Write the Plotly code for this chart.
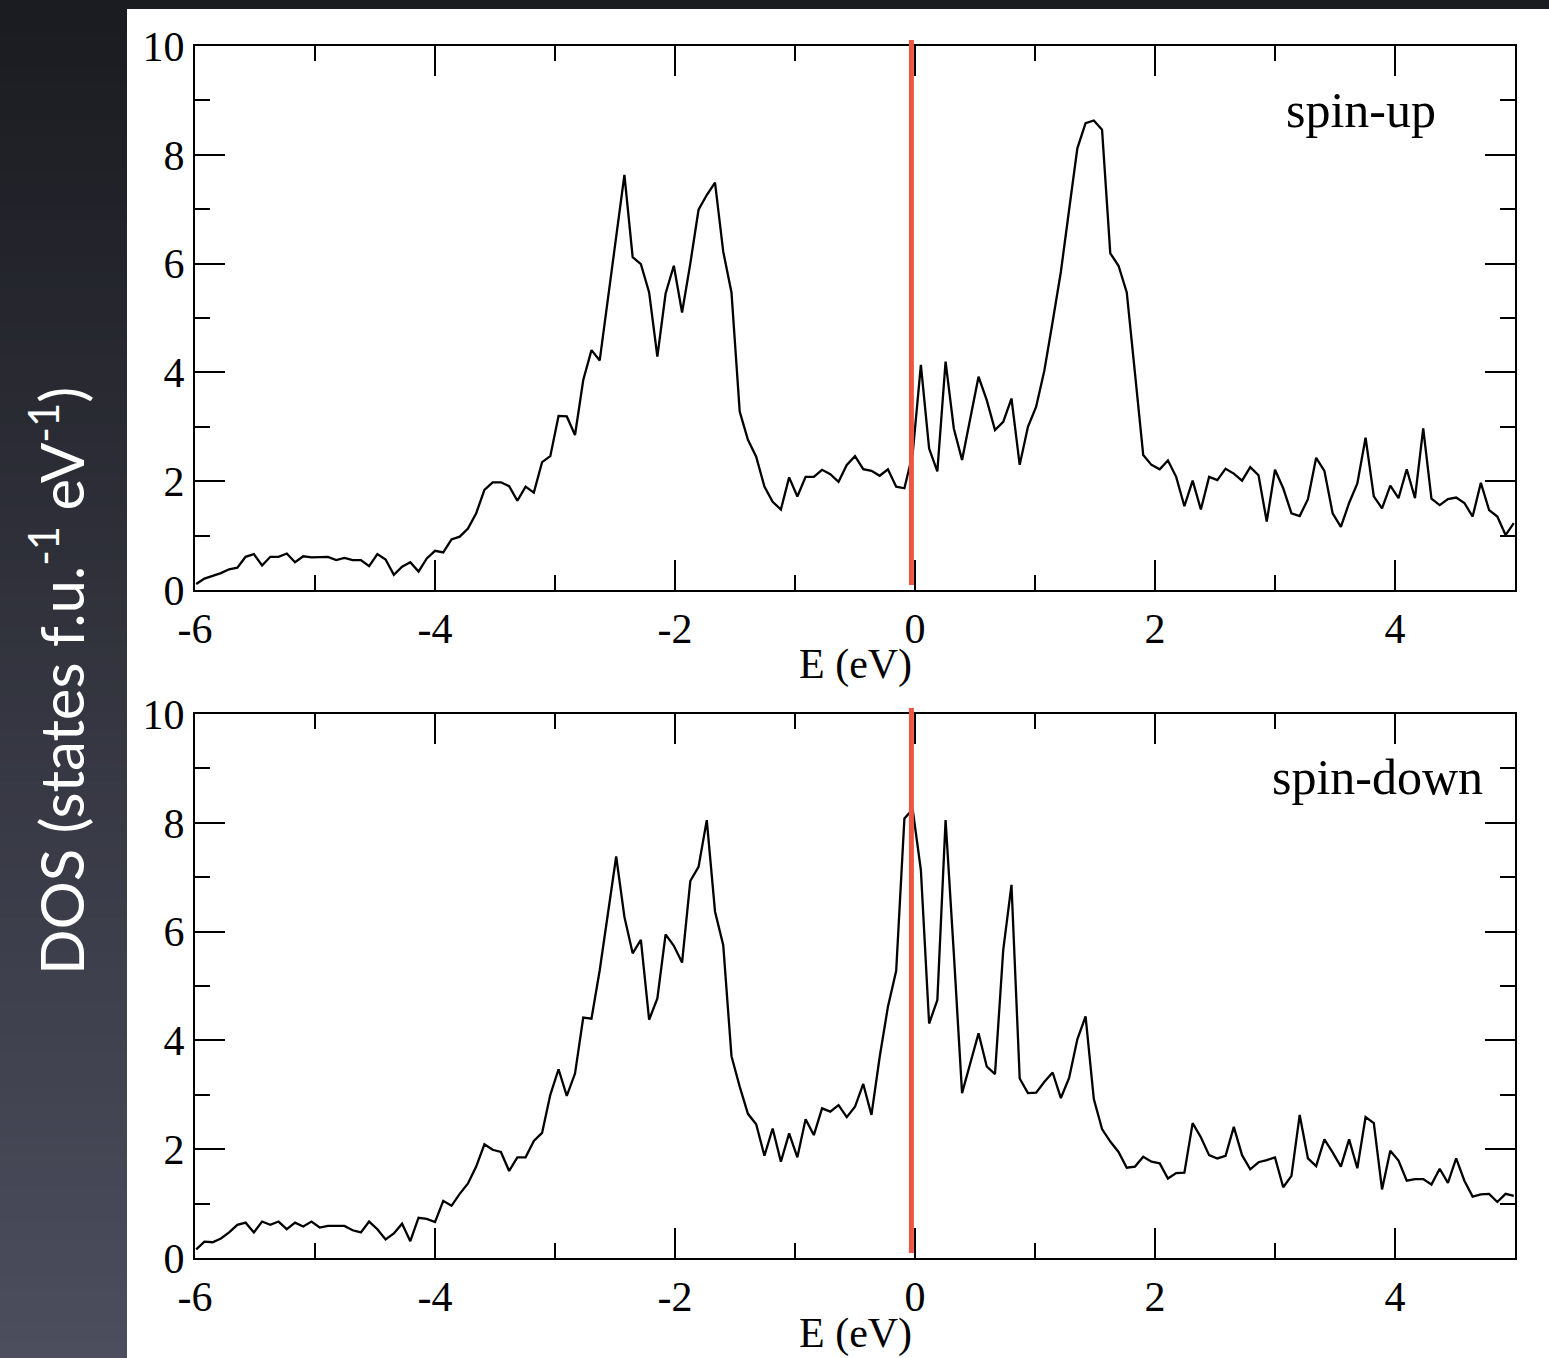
import numpy as np
import plotly.graph_objects as go
from plotly.subplots import make_subplots

# ---------------- data ----------------
energy = np.linspace(-5.99, 4.99, 161)  # uniform energy grid (eV)

dos_up = [
    0.11, 0.21, 0.26, 0.31, 0.38, 0.41, 0.61, 0.66, 0.45, 0.61,
    0.61, 0.67, 0.51, 0.62, 0.60, 0.60, 0.61, 0.55, 0.59, 0.55,
    0.55, 0.44, 0.66, 0.56, 0.28, 0.43, 0.51, 0.34, 0.58, 0.72,
    0.69, 0.93, 0.98, 1.13, 1.41, 1.84, 1.98, 1.98, 1.91, 1.64,
    1.90, 1.79, 2.35, 2.46, 3.20, 3.19, 2.85, 3.86, 4.41, 4.22,
    5.39, 6.49, 7.63, 6.12, 5.99, 5.47, 4.29, 5.45, 5.96, 5.10,
    6.00, 6.99, 7.26, 7.49, 6.22, 5.47, 3.28, 2.76, 2.45, 1.90,
    1.62, 1.48, 2.07, 1.72, 2.08, 2.08, 2.21, 2.13, 1.99, 2.30,
    2.46, 2.22, 2.19, 2.10, 2.22, 1.90, 1.87, 2.50, 4.14, 2.60,
    2.18, 4.20, 2.97, 2.39, 3.19, 3.92, 3.49, 2.94, 3.09, 3.52,
    2.30, 3.00, 3.37, 4.04, 4.93, 5.85, 6.99, 8.12, 8.58, 8.63,
    8.46, 6.19, 5.96, 5.47, 3.98, 2.48, 2.30, 2.22, 2.38, 2.08,
    1.54, 2.01, 1.48, 2.08, 2.02, 2.23, 2.14, 2.01, 2.26, 2.11,
    1.26, 2.21, 1.87, 1.41, 1.36, 1.67, 2.43, 2.19, 1.41, 1.16,
    1.60, 1.96, 2.80, 1.72, 1.50, 1.92, 1.69, 2.22, 1.69, 2.97,
    1.68, 1.56, 1.67, 1.70, 1.60, 1.35, 1.97, 1.47, 1.35, 1.01,
    1.23,
]

dos_down = [
    0.16, 0.30, 0.29, 0.36, 0.47, 0.61, 0.65, 0.47, 0.67, 0.61,
    0.67, 0.53, 0.65, 0.58, 0.67, 0.56, 0.59, 0.59, 0.59, 0.51,
    0.47, 0.67, 0.53, 0.34, 0.45, 0.63, 0.31, 0.74, 0.72, 0.66,
    1.05, 0.96, 1.18, 1.37, 1.68, 2.09, 1.99, 1.95, 1.60, 1.85,
    1.85, 2.15, 2.30, 3.00, 3.47, 2.98, 3.39, 4.42, 4.40, 5.29,
    6.37, 7.38, 6.27, 5.60, 5.85, 4.38, 4.77, 5.95, 5.74, 5.43,
    6.93, 7.19, 8.05, 6.37, 5.75, 3.71, 3.15, 2.65, 2.46, 1.88,
    2.38, 1.77, 2.29, 1.85, 2.55, 2.26, 2.75, 2.69, 2.81, 2.59,
    2.78, 3.20, 2.63, 3.70, 4.62, 5.28, 8.08, 8.25, 7.13, 4.31,
    4.74, 8.05, 5.60, 3.03, 3.58, 4.13, 3.52, 3.38, 5.66, 6.86,
    3.30, 3.03, 3.04, 3.24, 3.41, 2.94, 3.31, 4.02, 4.44, 2.92,
    2.37, 2.14, 1.95, 1.66, 1.68, 1.86, 1.77, 1.74, 1.46, 1.56,
    1.57, 2.48, 2.22, 1.89, 1.83, 1.88, 2.41, 1.89, 1.63, 1.76,
    1.80, 1.85, 1.30, 1.51, 2.63, 1.83, 1.69, 2.18, 1.94, 1.68,
    2.18, 1.65, 2.59, 2.48, 1.26, 1.97, 1.79, 1.42, 1.45, 1.45,
    1.35, 1.64, 1.38, 1.83, 1.42, 1.13, 1.17, 1.18, 1.03, 1.18,
    1.14,
]

fermi_level = -0.03
x_tickvals = [-6, -4, -2, 0, 2, 4]
x_ticktext = ["-6", "-4", "-2", "0", "2", "4"]
y_tickvals = [0, 2, 4, 6, 8, 10]
y_ticktext = ["0", "2", "4", "6", "8", "10"]
panel_labels = ["spin-up", "spin-down"]
x_title = "E (eV)"
y_title = "DOS (states f.u.<sup>-1</sup> eV<sup>-1</sup>)"

# ---------------- figure ----------------
W, H = 1549, 1358
ML, MR, MT, MB = 195, 34, 46, 100
PW, PH = W - ML - MR, H - MT - MB


def px2x(px):
    return (px - ML) / PW


def py2y(py):
    return (H - MB - py) / PH


fig = make_subplots(rows=2, cols=1, vertical_spacing=(714 - 590) / PH)

serif = "Liberation Serif, Times New Roman, serif"
for row, series in ((1, dos_up), (2, dos_down)):
    fig.add_trace(
        go.Scatter(x=energy, y=series, mode="lines",
                   line=dict(color="black", width=2.3), showlegend=False,
                   hoverinfo="skip"),
        row=row, col=1)

axis_common = dict(
    showline=True, linecolor="black", linewidth=2.2, mirror="allticks",
    ticks="inside", ticklen=30, tickwidth=2, tickcolor="black",
    showgrid=False, zeroline=False,
    tickfont=dict(family=serif, size=42, color="black"),
    minor=dict(ticks="inside", ticklen=15, tickwidth=2, tickcolor="black",
               dtick=1, showgrid=False),
)
for r in (1, 2):
    fig.update_xaxes(range=[-6, 5], tickmode="array", tickvals=x_tickvals,
                     ticktext=x_ticktext, row=r, col=1, **axis_common)
    fig.update_yaxes(range=[0, 10], tickmode="array", tickvals=y_tickvals,
                     ticktext=y_ticktext, row=r, col=1, **axis_common)

# background: dark gradient + white panel
shapes = []
n_bands = 80
c0 = np.array([0x1b, 0x1c, 0x21])
c1 = np.array([0x4c, 0x4e, 0x5e])
for i in range(n_bands):
    t = i / (n_bands - 1)
    c = (c0 + (c1 - c0) * t).astype(int)
    y_top = H * i / n_bands
    y_bot = H * (i + 1) / n_bands + 1
    shapes.append(dict(type="rect", xref="paper", yref="paper", layer="below",
                       x0=px2x(0), x1=px2x(W), y0=py2y(y_bot), y1=py2y(y_top),
                       line=dict(width=0),
                       fillcolor="rgb(%d,%d,%d)" % tuple(c)))
shapes.append(dict(type="rect", xref="paper", yref="paper", layer="below",
                   x0=px2x(127), x1=px2x(W + 2), y0=py2y(H + 2), y1=py2y(9),
                   line=dict(width=0), fillcolor="white"))
# Fermi level lines
for xr, yr in (("x", "y domain"), ("x2", "y2 domain")):
    shapes.append(dict(type="line", xref=xr, yref=yr, x0=fermi_level,
                       x1=fermi_level, y0=0.009, y1=1.011, layer="above",
                       line=dict(color="#ec5646", width=5)))

annotations = [
    dict(text=panel_labels[0], xref="x", yref="y", x=3.72, y=8.82,
         showarrow=False, font=dict(family=serif, size=50, color="black")),
    dict(text=panel_labels[1], xref="x2", yref="y2", x=3.85, y=8.85,
         showarrow=False, font=dict(family=serif, size=50, color="black")),
    dict(text=x_title, xref="paper", yref="paper", x=0.5, y=py2y(665),
         showarrow=False, yanchor="middle",
         font=dict(family=serif, size=42, color="black")),
    dict(text=x_title, xref="paper", yref="paper", x=0.5, y=py2y(1333),
         showarrow=False, yanchor="middle",
         font=dict(family=serif, size=42, color="black")),
    dict(text=y_title, xref="paper", yref="paper", x=px2x(57), y=py2y(681),
         showarrow=False, textangle=-90, xanchor="center", yanchor="middle",
         font=dict(family="Lato, Open Sans, sans-serif", size=60,
                   color="white")),
]

fig.update_layout(
    width=W, height=H,
    margin=dict(l=ML, r=MR, t=MT, b=MB, pad=0),
    paper_bgcolor="#2a2b33", plot_bgcolor="white",
    shapes=shapes, annotations=annotations, showlegend=False,
)

fig.write_html("out.html")
